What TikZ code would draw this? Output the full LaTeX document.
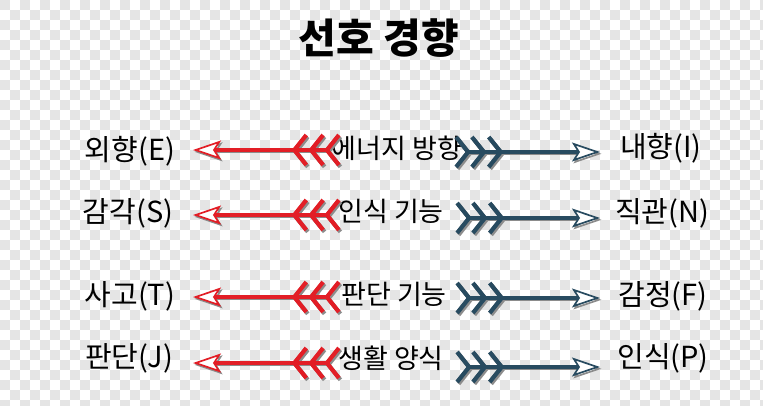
\documentclass[tikz,border=0pt]{standalone}
\usepackage{fontspec}
\setmainfont{Noto Sans CJK KR}
\usepackage{xcolor}
\definecolor{arrred}{HTML}{E21E26}
\definecolor{arrblue}{HTML}{284B60}
\definecolor{shade}{HTML}{8C8C8C}
\definecolor{checker}{HTML}{E5E5E5}
\usetikzlibrary{arrows.meta}

\begin{document}
\begin{tikzpicture}[x=1pt,y=-1pt,
  side/.style={font=\fontsize{29}{34}\selectfont,inner sep=0pt},
  mid/.style={font=\fontsize{27}{32}\selectfont,inner sep=0pt},
  ttl/.style={font=\fontsize{41}{48}\selectfont\bfseries,inner sep=0pt},
  arr/.style={line width=3.8pt,shorten <=-22pt,
    {Straight Barb[reversed,length=12pt,width=30pt,line width=4.2pt,sep=-1pt]
     Straight Barb[reversed,length=12pt,width=30pt,line width=4.2pt,sep=-1pt]
     Straight Barb[reversed,length=12pt,width=30pt,line width=4.2pt]}-{Stealth[fill=white,length=28pt,width=19pt,inset=6pt,line width=1.7pt]},
    preaction={draw=shade,transform canvas={shift={(1.5pt,-1.8pt)}}}},
  redarr/.style={arr,draw=arrred},
  bluearr/.style={arr,draw=arrblue}]
\useasboundingbox (0,0) rectangle (763,405);
% transparent-looking background
\foreach \i in {0,20,...,760}{\foreach \j in {0,20,...,400}{
  \fill[fill=checker] (\i,\j) rectangle ++(10,10);
  \fill[fill=checker] (\i+10,\j+10) rectangle ++(10,10);}}
\node[ttl] (ttl) at (379,38) {선호 경향};
\node[side] (ext) at (130,151) {외향(E)};
\node[mid] (enr) at (397,148) {에너지 방향};
\node[side] (int) at (661,148) {내향(I)};
\node[side] (sen) at (128,213) {감각(S)};
\node[mid] (prc) at (391,211) {인식 기능};
\node[side] (ntu) at (662,213) {직관(N)};
\node[side] (thk) at (130,296) {사고(T)};
\node[mid] (jdg) at (394,294) {판단 기능};
\node[side] (fel) at (663,296) {감정(F)};
\node[side] (jud) at (129,358) {판단(J)};
\node[mid] (lif) at (391,358) {생활 양식};
\node[side] (per) at (663,358) {인식(P)};
% arrow ends
\coordinate (rs1) at (318,150); \coordinate (re1) at (193,150);
\coordinate (bs1) at (477,152); \coordinate (be1) at (600,152);
\coordinate (rs2) at (318,215); \coordinate (re2) at (193,215);
\coordinate (bs2) at (478,218); \coordinate (be2) at (600,218);
\coordinate (rs3) at (318,297); \coordinate (re3) at (193,297);
\coordinate (bs3) at (478,298); \coordinate (be3) at (600,298);
\coordinate (rs4) at (318,363); \coordinate (re4) at (193,363);
\coordinate (bs4) at (478,367); \coordinate (be4) at (600,367);
\draw[redarr] (rs1) -- (re1); \draw[bluearr] (bs1) -- (be1);
\draw[redarr] (rs2) -- (re2); \draw[bluearr] (bs2) -- (be2);
\draw[redarr] (rs3) -- (re3); \draw[bluearr] (bs3) -- (be3);
\draw[redarr] (rs4) -- (re4); \draw[bluearr] (bs4) -- (be4);
\end{tikzpicture}
\end{document}
